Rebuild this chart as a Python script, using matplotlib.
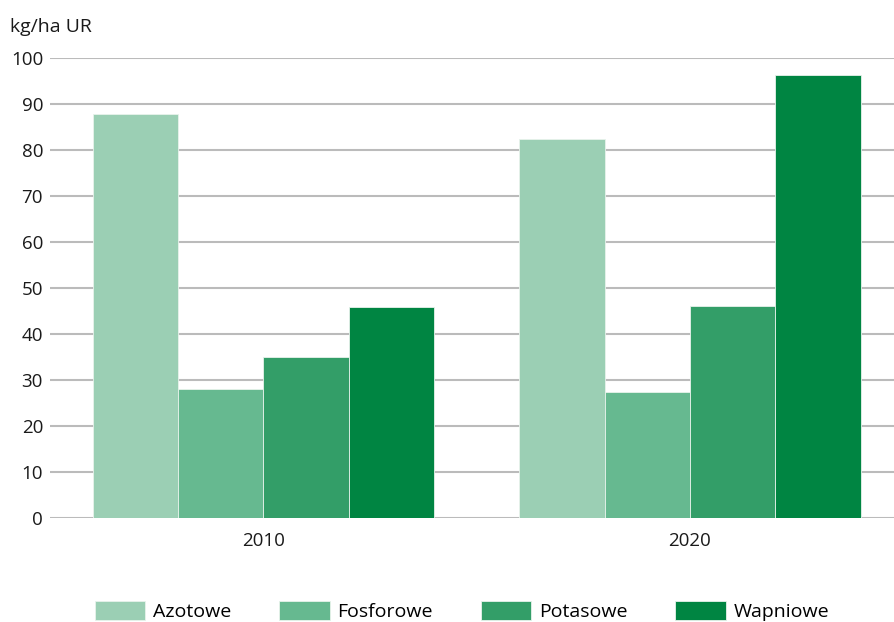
import matplotlib
matplotlib.use("Agg")
import matplotlib.pyplot as plt
import numpy as np

years = ["2010", "2020"]
series = ["Azotowe", "Fosforowe", "Potasowe", "Wapniowe"]
azotowe = [87.8, 82.3]
fosforowe = [28.0, 27.3]
potasowe = [34.9, 46.0]
wapniowe = [45.8, 96.3]
colors = ["#9BCFB4", "#66B990", "#339E68", "#008542"]
yticks = [0, 10, 20, 30, 40, 50, 60, 70, 80, 90, 100]

plt.rcParams['font.family'] = ['Open Sans', 'DejaVu Sans']

fig = plt.figure(figsize=(8.94, 6.22), dpi=100)
ax = fig.add_axes([50/894, 1-518/622, 1-50/894, (518-58)/622])

x = np.arange(len(years))
w = 0.2
vals = [azotowe, fosforowe, potasowe, wapniowe]
for i, (name, v, c) in enumerate(zip(series, vals, colors)):
    ax.bar(x + (i - 1.5) * w, v, width=w, color=c, edgecolor="#e8f3ec",
           linewidth=0.6, label=name, zorder=3)

ax.set_ylim(0, 100)
ax.set_xlim(-0.5, 1 + (894-690)/426.5)
ax.set_yticks(yticks)
ax.set_xticks(x)
ax.set_xticklabels(years)
ax.yaxis.grid(True, color="#BBBBBB", linewidth=1.5, zorder=0)
ax.set_axisbelow(True)
for s in ax.spines.values():
    s.set_visible(False)
ax.tick_params(axis="both", length=0, labelsize=13.5, colors="#1a1a1a")
ax.tick_params(axis="y", pad=5)
ax.tick_params(axis="x", pad=10)

fig.text(10/894, 1-27/622, "kg/ha UR", fontsize=14, va="center", ha="left", color="#1a1a1a")

fig.legend(loc="center", bbox_to_anchor=(462/894, 1-611/622), ncol=4, frameon=False,
           fontsize=14, handlelength=2.6, handleheight=1.1, handletextpad=0.4,
           columnspacing=2.45, borderaxespad=0)

fig.savefig("out.png", dpi=100)
